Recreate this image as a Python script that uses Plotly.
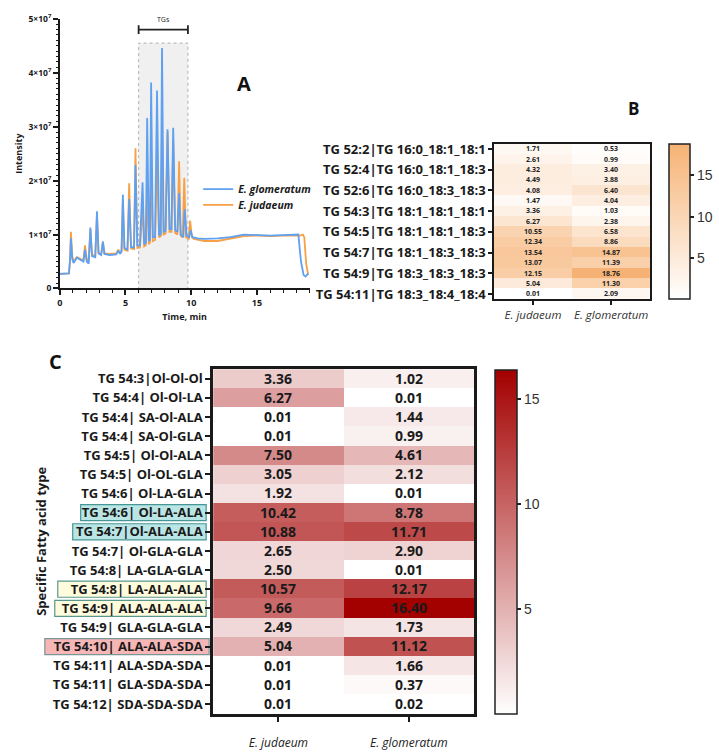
import plotly.graph_objects as go

# ---------------- DATA ----------------
# Panel A: chromatogram (intensity in units of 1e7)
time_glo = [0, 0.7, 0.78, 0.85, 0.95, 1.05, 1.3, 1.6, 1.8, 1.92,
            2.05, 2.2, 2.33, 2.45, 2.7, 2.83, 2.95, 3.15, 3.28, 3.4,
            3.8, 4.3, 4.45, 4.6, 4.7, 4.8, 4.92, 5.15, 5.28, 5.42,
            5.65, 5.76, 5.9, 6.1, 6.3, 6.42, 6.55, 6.65, 6.78, 6.86,
            6.95, 7.08, 7.25, 7.4, 7.55, 7.68, 7.78, 7.9, 8.05, 8.2,
            8.35, 8.5, 8.63, 8.78, 8.95, 9.08, 9.2, 9.4, 9.5, 9.65,
            9.85, 9.95, 10.1, 10.5, 11, 12, 13, 14, 15, 16,
            17, 18, 18.15, 18.35, 18.55, 18.7, 18.9]
int_glo = [0.27, 0.28, 0.5, 0.93, 0.55, 0.47, 0.57, 0.52, 0.5, 0.72,
           0.5, 0.46, 1.13, 0.6, 0.58, 1.43, 0.65, 0.62, 0.87, 0.64,
           0.62, 0.63, 0.7, 0.64, 0.7, 1.74, 0.75, 0.72, 1.66, 0.77,
           0.76, 2.29, 0.8, 0.8, 1.97, 0.82, 0.85, 3.16, 0.88, 0.9,
           3.82, 0.95, 0.95, 3.67, 1.0, 1.0, 4.46, 1.05, 1.07, 2.95,
           1.1, 1.1, 2.98, 1.08, 1.05, 1.77, 1.0, 0.95, 1.47, 0.98,
           0.95, 1.08, 0.95, 0.93, 0.92, 0.93, 0.95, 1.0, 0.99, 0.98,
           0.99, 1.0, 1.0, 0.5, 0.25, 0.22, 0.28]

time_jud = [0, 0.7, 0.78, 0.85, 0.95, 1.05, 1.3, 1.6, 1.8, 1.92,
            2.05, 2.2, 2.33, 2.45, 2.7, 2.83, 2.95, 3.15, 3.28, 3.4,
            3.8, 4.3, 4.45, 4.6, 4.7, 4.8, 4.92, 5.15, 5.28, 5.42,
            5.65, 5.76, 5.9, 6.1, 6.3, 6.42, 6.55, 6.65, 6.78, 6.86,
            6.95, 7.08, 7.25, 7.4, 7.55, 7.68, 7.78, 7.9, 8.05, 8.2,
            8.35, 8.5, 8.63, 8.78, 8.95, 9.08, 9.2, 9.35, 9.47, 9.6,
            9.8, 9.92, 10.05, 10.2, 10.5, 11, 12, 13, 14, 15,
            16, 17, 18, 18.3, 18.5, 18.6, 18.75, 18.9]
int_jud = [0.27, 0.28, 0.55, 1.05, 0.6, 0.5, 0.58, 0.55, 0.52, 0.8,
           0.55, 0.5, 1.1, 0.63, 0.6, 1.35, 0.66, 0.63, 0.87, 0.65,
           0.64, 0.65, 0.72, 0.66, 0.68, 1.6, 0.72, 0.7, 1.95, 0.74,
           0.73, 2.6, 0.75, 0.76, 1.5, 0.78, 0.8, 1.9, 0.82, 0.85,
           2.2, 0.88, 0.9, 2.45, 0.95, 0.97, 3.0, 1.0, 1.02, 2.9,
           1.05, 1.05, 2.73, 1.03, 1.0, 2.36, 0.98, 0.95, 2.05, 0.95,
           0.92, 1.26, 0.95, 0.92, 0.9, 0.88, 0.88, 0.92, 0.97, 0.98,
           0.97, 0.98, 0.98, 0.98, 1.0, 0.95, 0.45, 0.25]

a_xticks = [0, 5, 10, 15]
a_yticks = [0, 1, 2, 3, 4, 5]
a_yticktext = ["0", "1×10<sup>7</sup>", "2×10<sup>7</sup>", "3×10<sup>7</sup>",
               "4×10<sup>7</sup>", "5×10<sup>7</sup>"]
tg_window = [6.0, 9.75]

# Panel B: TG species heatmap
species = ["<i>E. judaeum</i>", "<i>E. glomeratum</i>"]
b_judaeum = [1.71, 2.61, 4.32, 4.49, 4.08, 1.47, 3.36, 6.27, 10.55, 12.34,
             13.54, 13.07, 12.15, 5.04, 0.01]
b_glomeratum = [0.53, 0.99, 3.40, 3.88, 6.40, 4.04, 1.03, 2.38, 6.58, 8.86,
                14.87, 11.39, 18.76, 11.30, 2.09]
b_labels = ["TG 52:2|TG 16:0_18:1_18:1", "TG 52:4|TG 16:0_18:1_18:3",
            "TG 52:6|TG 16:0_18:3_18:3", "TG 54:3|TG 18:1_18:1_18:1",
            "TG 54:5|TG 18:1_18:1_18:3", "TG 54:7|TG 18:1_18:3_18:3",
            "TG 54:9|TG 18:3_18:3_18:3", "TG 54:11|TG 18:3_18:4_18:4"]

# Panel C: specific fatty acid type heatmap
c_labels = ["TG 54:3|Ol-Ol-Ol", "TG 54:4| Ol-Ol-LA", "TG 54:4| SA-Ol-ALA",
            "TG 54:4| SA-Ol-GLA", "TG 54:5| Ol-Ol-ALA", "TG 54:5| Ol-OL-GLA",
            "TG 54:6| Ol-LA-GLA", "TG 54:6| Ol-LA-ALA", "TG 54:7|Ol-ALA-ALA",
            "TG 54:7| Ol-GLA-GLA", "TG 54:8| LA-GLA-GLA", "TG 54:8| LA-ALA-ALA",
            "TG 54:9| ALA-ALA-ALA", "TG 54:9| GLA-GLA-GLA", "TG 54:10| ALA-ALA-SDA",
            "TG 54:11| ALA-SDA-SDA", "TG 54:11| GLA-SDA-SDA", "TG 54:12| SDA-SDA-SDA"]
c_judaeum = [3.36, 6.27, 0.01, 0.01, 7.50, 3.05, 1.92, 10.42, 10.88, 2.65,
             2.50, 10.57, 9.66, 2.49, 5.04, 0.01, 0.01, 0.01]
c_glomeratum = [1.02, 0.01, 1.44, 0.99, 4.61, 2.12, 0.01, 8.78, 11.71, 2.90,
                0.01, 12.17, 16.40, 1.73, 11.12, 1.66, 0.37, 0.02]

# highlighted label boxes: (label, fill, border, left px, right px)
highlights = [
    ("TG 54:6| Ol-LA-ALA", "rgb(186,229,229)", "rgb(70,150,150)", 78, 204),
    ("TG 54:7|Ol-ALA-ALA", "rgb(186,229,229)", "rgb(70,150,150)", 70, 204),
    ("TG 54:8| LA-ALA-ALA", "rgb(255,252,222)", "rgb(90,150,140)", 55, 204),
    ("TG 54:9| ALA-ALA-ALA", "rgb(255,252,222)", "rgb(90,150,140)", 52, 204),
    ("TG 54:10| ALA-ALA-SDA", "rgb(246,182,182)", "rgb(120,150,150)", 42, 207),
]

# ---------------- LAYOUT HELPERS ----------------
W, H = 719, 755
def px(x):
    return x / W
def py(y):
    return 1 - y / H

FONT = "Open Sans"
ORANGE = "rgb(247,160,70)"
BLUE = "rgb(95,160,240)"

fig = go.Figure()

# ---- Panel A ----
fig.add_trace(go.Scatter(x=time_jud, y=int_jud, mode="lines", name="<i>E. judaeum</i>",
                         line=dict(color=ORANGE, width=1.8), xaxis="x", yaxis="y",
                         legend="legend2"))
fig.add_trace(go.Scatter(x=time_glo, y=int_glo, mode="lines", name="<i>E. glomeratum</i>",
                         line=dict(color=BLUE, width=1.8), xaxis="x", yaxis="y",
                         legend="legend"))

# ---- Panel B ----
b_rows = list(range(len(b_judaeum)))
fig.add_trace(go.Heatmap(
    z=[[j, g] for j, g in zip(b_judaeum, b_glomeratum)],
    x=species, y=b_rows, xaxis="x2", yaxis="y2",
    colorscale=[[0, "rgb(255,255,255)"], [1, "rgb(246,178,116)"]],
    zmin=0, zmax=max(b_glomeratum),
    texttemplate="%{z:.2f}", textfont=dict(size=7, color="#222", family=FONT, weight="bold"),
    showscale=True,
    colorbar=dict(x=px(669), xanchor="left", y=py(297), yanchor="bottom",
                  len=(297 - 139) / H, lenmode="fraction", thickness=21, thicknessmode="pixels",
                  xpad=0, ypad=0,
                  outlinewidth=1.5, outlinecolor="#222", tickvals=[5, 10, 15], ticks="outside",
                  ticklen=4, tickwidth=1.5, tickcolor="#222",
                  tickfont=dict(size=14, color="#333", family="Liberation Sans")),
    xgap=0, ygap=0, hoverinfo="skip", showlegend=False))

# ---- Panel C ----
fig.add_trace(go.Heatmap(
    z=[[j, g] for j, g in zip(c_judaeum, c_glomeratum)],
    x=species, y=c_labels, xaxis="x3", yaxis="y3",
    colorscale=[[0, "rgb(255,255,255)"], [1, "rgb(163,0,0)"]],
    zmin=0, zmax=max(c_glomeratum),
    texttemplate="%{z:.2f}", textfont=dict(size=14, color="#1a1a1a", family=FONT, weight="bold"),
    showscale=True,
    colorbar=dict(x=px(494), xanchor="left", y=py(718), yanchor="bottom",
                  len=(718 - 368) / H, lenmode="fraction", thickness=22, thicknessmode="pixels",
                  xpad=0, ypad=0,
                  outlinewidth=1.5, outlinecolor="#222", tickvals=[5, 10, 15], ticks="outside",
                  ticklen=4, tickwidth=1.5, tickcolor="#222",
                  tickfont=dict(size=14, color="#333", family="Liberation Sans")),
    hoverinfo="skip", showlegend=False))

axis_common = dict(showgrid=False, zeroline=False, linecolor="#1a1a1a", ticks="outside",
                   tickcolor="#1a1a1a")

legend_style = dict(xanchor="left", yanchor="middle", bgcolor="rgba(0,0,0,0)",
                    font=dict(size=10.5, family=FONT, weight="bold"),
                    itemwidth=30, borderwidth=0)

fig.update_layout(
    width=W, height=H, margin=dict(l=0, r=0, t=0, b=0),
    paper_bgcolor="white", plot_bgcolor="white",
    font=dict(family=FONT, color="#1a1a1a"),
    showlegend=True,
    legend=dict(x=px(196), y=py(185), **legend_style),
    legend2=dict(x=px(196), y=py(201), **legend_style),
    xaxis=dict(domain=[px(57), px(307.8)], range=[0, 19], anchor="y",
               tickvals=a_xticks, linewidth=1.5, ticklen=5, tickwidth=1.5,
               tickfont=dict(size=9, weight="bold"),
               minor=dict(dtick=1, ticks="outside", ticklen=3, tickcolor="#1a1a1a", tickwidth=1),
               title=dict(text="Time, min", font=dict(size=9, weight="bold"), standoff=6),
               **axis_common),
    yaxis=dict(domain=[py(286), py(12)], range=[0, 5], anchor="x",
               tickvals=a_yticks, ticktext=a_yticktext, linewidth=1.5, ticklen=5, tickwidth=1.5,
               tickfont=dict(size=8.5, weight="bold"),
               minor=dict(dtick=0.1, ticks="outside", ticklen=2.5, tickcolor="#1a1a1a", tickwidth=1),
               title=dict(text="Intensity", font=dict(size=9, weight="bold"), standoff=4),
               **axis_common),
    xaxis2=dict(domain=[px(493), px(650)], anchor="y2", linewidth=1.5, mirror=True,
                showline=True, ticklen=4, tickwidth=1.5,
                tickfont=dict(size=11.5, color="#333"), **axis_common),
    yaxis2=dict(domain=[py(297), py(139)], anchor="x2", autorange=False,
                range=[len(b_judaeum) - 0.5, -0.5], linewidth=1.5, mirror=True, showline=True,
                tickvals=b_rows[::2], ticktext=b_labels, ticklen=4, tickwidth=1.5,
                tickfont=dict(size=13, weight="bold"), **axis_common),
    xaxis3=dict(domain=[px(211), px(473)], anchor="y3", linewidth=2.5, mirror=True,
                showline=True, ticklen=6, tickwidth=2,
                tickfont=dict(size=12, color="#222"), ticklabelstandoff=10, **axis_common),
    yaxis3=dict(domain=[py(718), py(368)], anchor="x3", autorange="reversed",
                linewidth=2.5, mirror=True, showline=True, ticklen=5, tickwidth=2,
                tickfont=dict(size=13, weight="bold"),
                title=dict(text="Specific Fatty acid type", font=dict(size=13, weight="bold"),
                           standoff=4),
                **axis_common),
)

shapes = []
# TG retention window
shapes.append(dict(type="rect", xref="x", yref="y", x0=tg_window[0], x1=tg_window[1],
                   y0=0, y1=4.55, fillcolor="rgb(240,240,240)",
                   line=dict(color="rgb(175,175,175)", width=1, dash="dot"), layer="below"))
# TG bracket
shapes.append(dict(type="line", xref="x", yref="y", x0=tg_window[0], x1=tg_window[1],
                   y0=4.8, y1=4.8, line=dict(color="#222", width=1.8)))
for xv in tg_window:
    shapes.append(dict(type="line", xref="x", yref="y", x0=xv, x1=xv, y0=4.72, y1=4.88,
                       line=dict(color="#222", width=1.8)))
# highlighted label boxes in panel C
for lab, fill, border, left, right in highlights:
    idx = c_labels.index(lab)
    shapes.append(dict(type="rect", xref="paper", yref="y3", x0=px(left), x1=px(right),
                       y0=idx - 0.42, y1=idx + 0.42, fillcolor=fill,
                       line=dict(color=border, width=1.2), layer="below"))
fig.update_layout(shapes=shapes)

annotations = [
    dict(text="TGs", x=sum(tg_window) / 2, y=4.86, xref="x", yref="y", showarrow=False,
         yanchor="bottom", font=dict(size=7, color="#222")),
    dict(text="<b>A</b>", x=px(242), y=py(78), xref="paper", yref="paper", showarrow=False,
         xanchor="center", yanchor="middle", font=dict(size=20, color="#111")),
    dict(text="<b>B</b>", x=px(633), y=py(103), xref="paper", yref="paper", showarrow=False,
         xanchor="center", yanchor="middle", font=dict(size=17, color="#111")),
    dict(text="<b>C</b>", x=px(53), y=py(360), xref="paper", yref="paper", showarrow=False,
         xanchor="center", yanchor="middle", font=dict(size=20, color="#111")),
]
fig.update_layout(annotations=annotations)

fig.write_html("out.html")
